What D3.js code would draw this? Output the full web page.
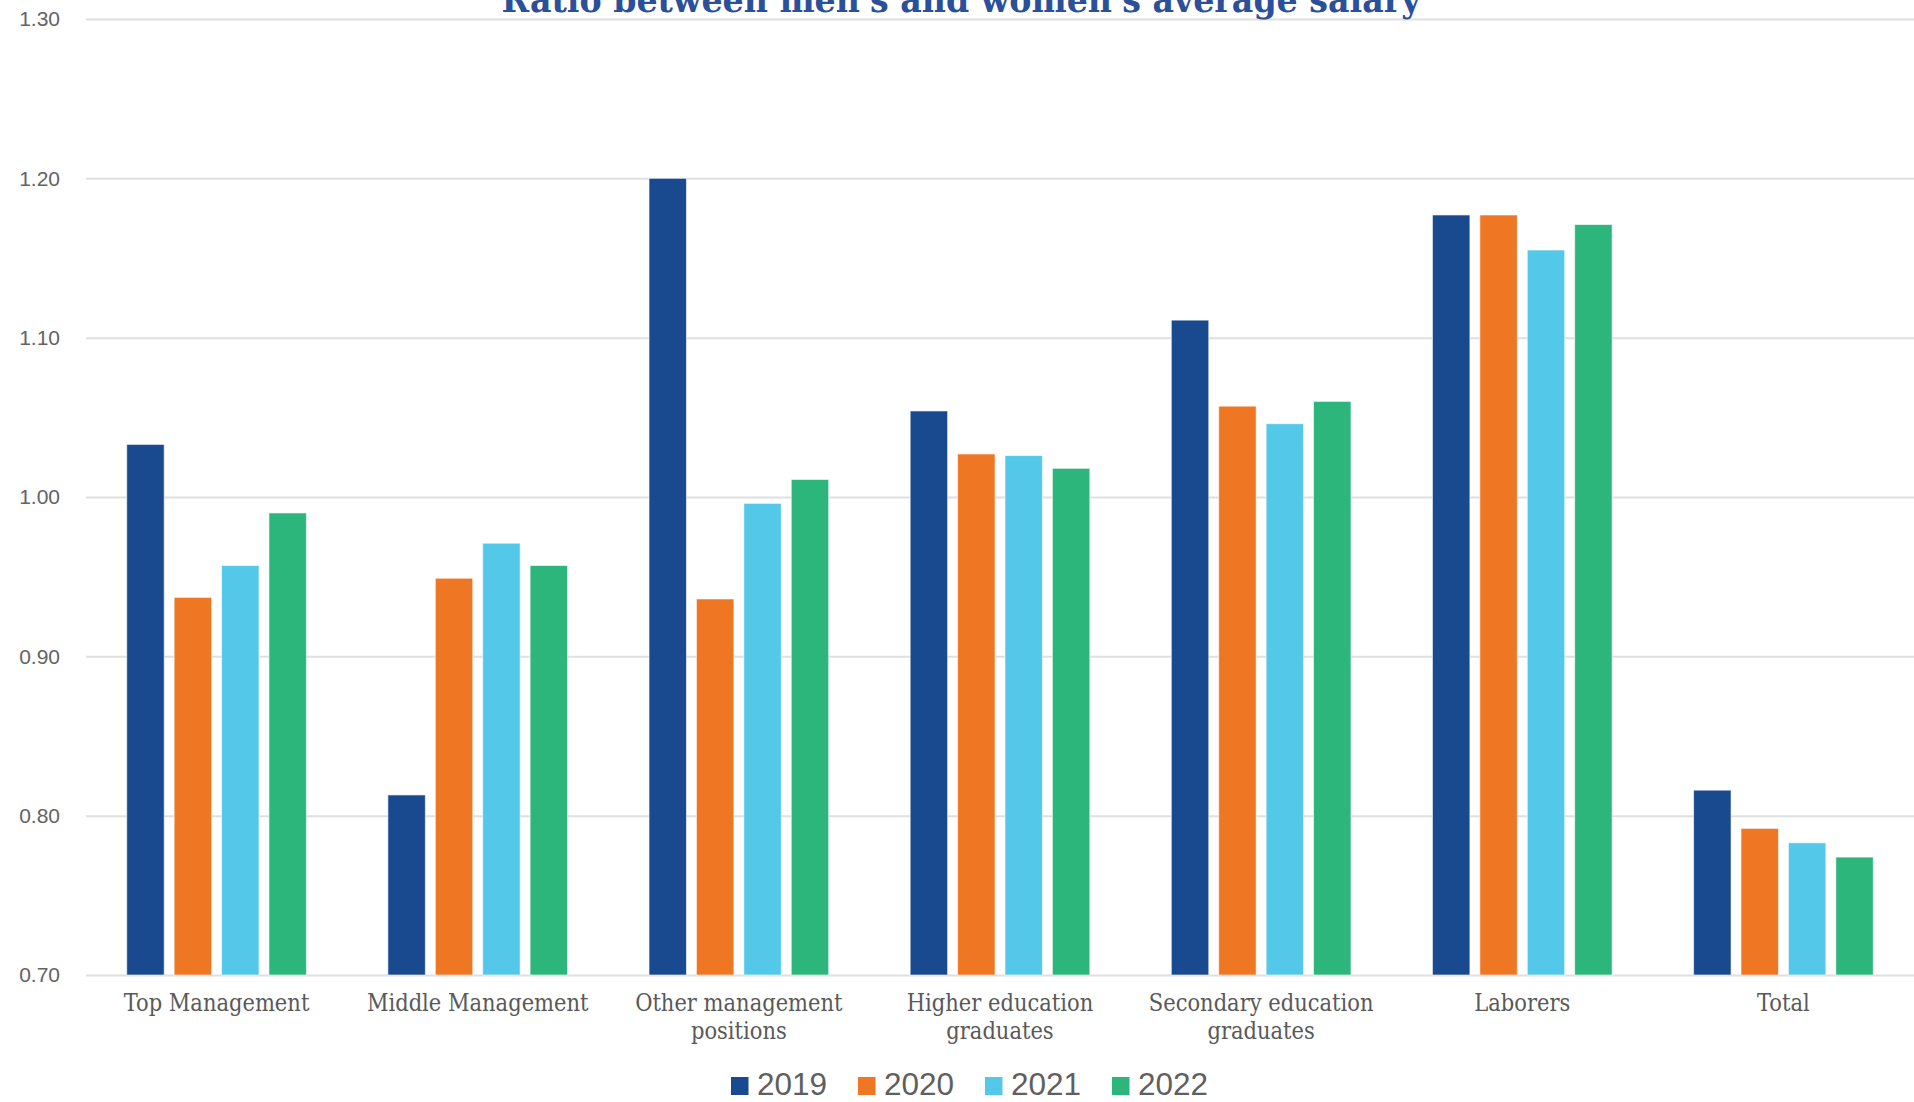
<!DOCTYPE html>
<html>
<head>
<meta charset="utf-8">
<script src="https://cdn.jsdelivr.net/npm/d3@7"></script>
<style>
  body { margin: 0; background: #fff; }
  svg { display: block; }
  .grid line { stroke: #e0e0e0; stroke-width: 2; }
  .grid text { fill: #636363; font-family: "Liberation Sans", Arial, sans-serif; font-size: 21px; }
  .cat text { fill: #595959; font-family: "DejaVu Serif Condensed", "DejaVu Serif", serif; font-size: 23.4px; }
  .legend text { fill: #5f5f5f; font-family: "Liberation Sans", Arial, sans-serif; font-size: 31.5px; }
</style>
</head>
<body>
<svg width="1914" height="1102"></svg>
<script>
"use strict";
// data
const categories = ["Top Management", "Middle Management", "Other management positions",
  "Higher education graduates", "Secondary education graduates", "Laborers", "Total"];
const years = ["2019", "2020", "2021", "2022"];
const values2019 = [1.033, 0.813, 1.200, 1.054, 1.111, 1.177, 0.816];
const values2020 = [0.937, 0.949, 0.936, 1.027, 1.057, 1.177, 0.792];
const values2021 = [0.957, 0.971, 0.996, 1.026, 1.046, 1.155, 0.783];
const values2022 = [0.990, 0.957, 1.011, 1.018, 1.060, 1.171, 0.774];
const yTicks = [0.70, 0.80, 0.90, 1.00, 1.10, 1.20, 1.30];
const colors = ["#19498f", "#ef7623", "#54c8e9", "#2db67c"];
const title = "Ratio between men's and women's average salary";

const series = [values2019, values2020, values2021, values2022];
const rows = categories.map((c, i) => ({
  category: c,
  values: years.map((yr, j) => ({ year: yr, value: series[j][i] }))
}));

const svg = d3.select("svg");
const plotLeft = 86, plotRight = 1914, plotTop = 19, plotBottom = 975;

const x0 = d3.scaleBand()
  .domain(categories)
  .range([plotLeft, plotRight]);
const groupW = x0.bandwidth();
const inner = groupW * 0.688;
const x1 = d3.scaleBand()
  .domain(years)
  .range([(groupW - inner) / 2, (groupW + inner) / 2])
  .paddingInner(0.21);
const y = d3.scaleLinear()
  .domain([0.7, 1.3])
  .range([plotBottom, plotTop]);
const color = d3.scaleOrdinal()
  .domain(years)
  .range(colors);

// gridlines + y labels
svg.append("g")
  .attr("class", "grid")
  .attr("transform", `translate(${plotLeft},0)`)
  .call(d3.axisLeft(y)
    .tickValues(yTicks)
    .tickSize(-(plotRight - plotLeft))
    .tickPadding(26)
    .tickFormat(d3.format(".2f")))
  .call(g => g.select(".domain").remove());

// bars
svg.append("g")
  .selectAll("g")
  .data(rows)
  .join("g")
  .attr("transform", d => `translate(${x0(d.category)},0)`)
  .selectAll("rect")
  .data(d => d.values)
  .join("rect")
  .attr("x", d => x1(d.year))
  .attr("y", d => y(d.value))
  .attr("width", x1.bandwidth())
  .attr("height", d => y(0.7) - y(d.value))
  .attr("fill", d => color(d.year))
  .attr("stroke", "#ffffff")
  .attr("stroke-opacity", 0.6)
  .attr("stroke-width", 1);

// category labels, wrapped
const cat = svg.append("g").attr("class", "cat");
cat.selectAll("text")
  .data(categories)
  .join("text")
  .attr("x", d => x0(d) + groupW / 2)
  .attr("y", 1011)
  .attr("text-anchor", "middle")
  .each(function (d) {
    const text = d3.select(this);
    const words = d.split(" ");
    let line = [];
    let tspan = text.append("tspan").attr("x", text.attr("x")).attr("dy", 0);
    words.forEach(w => {
      line.push(w);
      tspan.text(line.join(" "));
      if (tspan.node().getComputedTextLength() > 240 && line.length > 1) {
        line.pop();
        tspan.text(line.join(" "));
        line = [w];
        tspan = text.append("tspan").attr("x", text.attr("x")).attr("dy", 28).text(w);
      }
    });
  });

// legend
const legend = svg.append("g")
  .attr("class", "legend")
  .attr("transform", "translate(731,1077)");
const item = legend.selectAll("g")
  .data(years)
  .join("g")
  .attr("transform", (d, i) => `translate(${i * 127},0)`);
item.append("rect")
  .attr("width", 17.5)
  .attr("height", 18)
  .attr("fill", d => color(d));
item.append("text")
  .attr("x", 26)
  .attr("y", 18)
  .text(d => d);

// title, mostly cut off at the top
svg.append("text")
  .attr("x", 961)
  .attr("y", 12)
  .attr("text-anchor", "middle")
  .attr("textLength", 919)
  .attr("lengthAdjust", "spacingAndGlyphs")
  .style("font-family", "\"DejaVu Serif Condensed\", \"DejaVu Serif\", serif")
  .style("font-weight", "bold")
  .style("font-size", "36px")
  .style("fill", "#2b4f98")
  .text(title);
</script>
</body>
</html>
